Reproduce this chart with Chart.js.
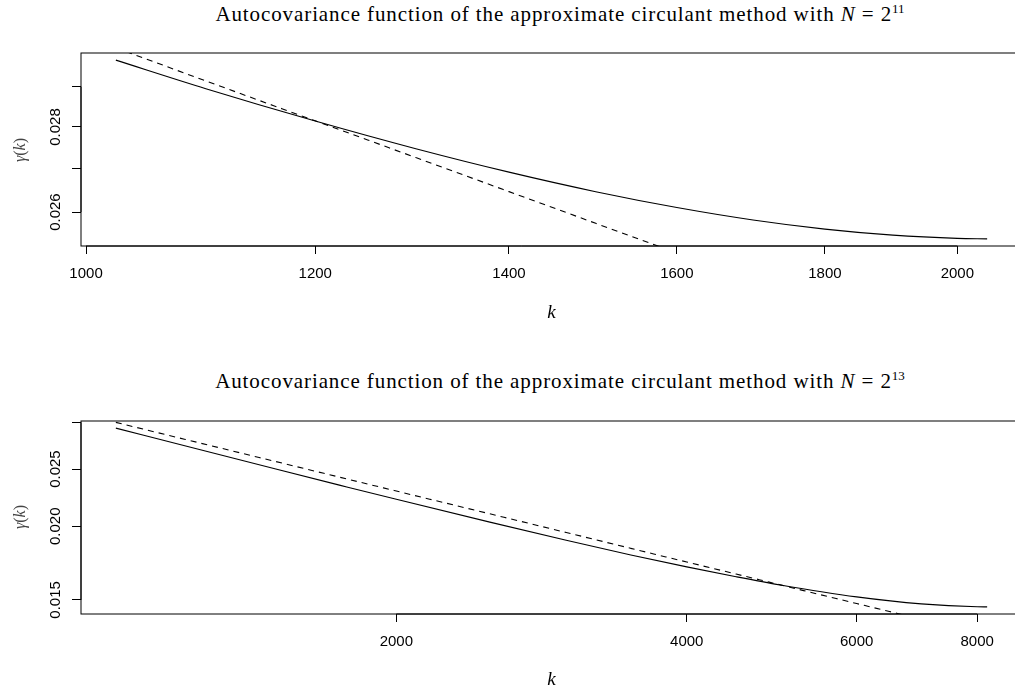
<!DOCTYPE html>
<html lang="en">
<head>
    <meta charset="UTF-8">
    <title>Autocovariance</title>
    <script src="https://cdn.jsdelivr.net/npm/chart.js"></script>
    <style>
        html, body {
            margin: 0;
            padding: 0;
            width: 1015px;
            height: 691px;
            overflow: hidden;
            background: #fff;
        }
        .panel {
            position: absolute;
            left: 0;
        }
        .title {
            position: absolute;
            left: 0;
            width: 1120px;
            text-align: center;
            font-family: "Liberation Serif", serif;
            font-size: 21px;
            letter-spacing: 0.9px;
            line-height: 20px;
            white-space: nowrap;
            color: #000;
        }
        .title sup {
            font-size: 13px;
            line-height: 0;
            letter-spacing: 0;
        }
        .xlab {
            position: absolute;
            left: 0;
            width: 1103px;
            text-align: center;
            font-family: "Liberation Serif", serif;
            font-style: italic;
            font-size: 19px;
            line-height: 20px;
            color: #000;
        }
        .ylab {
            position: absolute;
            width: 60px;
            text-align: center;
            font-family: "Liberation Serif", serif;
            font-size: 16px;
            line-height: 16px;
            color: #444;
            transform: rotate(-90deg);
        }
    </style>
</head>
<body>
    <div class="title" style="top:4px;">Autocovariance function of the approximate circulant method with <i>N</i> = 2<sup>11</sup></div>
    <canvas id="chartTop" class="panel" style="top:0px;" width="1030" height="330"></canvas>
    <div class="xlab" style="top:302px;">k</div>
    <div class="ylab" style="left:-10px; top:142px;"><i>γ</i>(<i>k</i>)</div>

    <div class="title" style="top:371px;">Autocovariance function of the approximate circulant method with <i>N</i> = 2<sup>13</sup></div>
    <canvas id="chartBottom" class="panel" style="top:368px;" width="1030" height="330"></canvas>
    <div class="xlab" style="top:669px;">k</div>
    <div class="ylab" style="left:-10px; top:509px;"><i>γ</i>(<i>k</i>)</div>

    <script>
        // N = 2^11
        const kTop = [1024, 1100, 1200, 1300, 1400, 1500, 1600, 1700, 1800, 1900, 2000, 2048];
        const approxTop = [0.029679, 0.028950, 0.028146, 0.027475, 0.026920, 0.026466, 0.026104, 0.025822, 0.025617, 0.025482, 0.025411, 0.025400];
        const exactTop = [0.030000, 0.029146, 0.028151, 0.027264, 0.026467, 0.025746, 0.025090, 0.024489, 0.023935, 0.023423, 0.022948, 0.022731];
        const xTicksTop = [1000, 1200, 1400, 1600, 1800, 2000];
        const xLabelsTop = ['1000', '1200', '1400', '1600', '1800', '2000'];
        const yTicksTop = [0.026, 0.027, 0.028, 0.029];
        const yLabelsTop = ['0.026', '', '0.028', ''];

        // N = 2^13
        const kBottom = [1024, 1250, 1500, 1750, 2000, 2500, 3000, 3500, 4000, 4500, 5000, 6000, 7000, 8000, 8192];
        const approxBottom = [0.029335, 0.026981, 0.025006, 0.023464, 0.022217, 0.020324, 0.018939, 0.017883, 0.017065, 0.016420, 0.015903, 0.015179, 0.014770, 0.014606, 0.014601];
        const exactBottom = [0.030000, 0.027696, 0.025746, 0.024207, 0.022948, 0.020995, 0.019519, 0.018348, 0.017395, 0.016596, 0.015909, 0.014791, 0.013910, 0.013183, 0.013058];
        const xTicksBottom = [2000, 4000, 6000, 8000];
        const xLabelsBottom = ['2000', '4000', '6000', '8000'];
        const yTicksBottom = [0.015, 0.020, 0.025, 0.030];
        const yLabelsBottom = ['0.015', '0.020', '0.025', ''];

        const tickFont = { family: '"Liberation Sans", Arial, sans-serif', size: 15 };

        // R style: 4% extra on each side, in log space
        function logRange(values) {
            const lo = Math.log10(Math.min(...values));
            const hi = Math.log10(Math.max(...values));
            const pad = (hi - lo) * 0.04;
            return { min: Math.pow(10, lo - pad), max: Math.pow(10, hi + pad) };
        }

        // box around the plot region, axis lines, rotated y labels
        const framePlugin = {
            id: 'frame',
            afterDraw(chart, args, opts) {
                const { ctx, chartArea: a, scales } = chart;
                ctx.save();
                ctx.strokeStyle = '#000';
                ctx.lineWidth = 1;
                ctx.strokeRect(a.left, a.top, a.right - a.left, a.bottom - a.top);

                const xs = scales.x.ticks, ys = scales.y.ticks;
                ctx.beginPath();
                ctx.moveTo(scales.x.getPixelForValue(xs[0].value), a.bottom);
                ctx.lineTo(scales.x.getPixelForValue(xs[xs.length - 1].value), a.bottom);
                ctx.moveTo(a.left, scales.y.getPixelForValue(ys[0].value));
                ctx.lineTo(a.left, scales.y.getPixelForValue(ys[ys.length - 1].value));
                ctx.stroke();

                ctx.fillStyle = '#000';
                ctx.font = '15px "Liberation Sans", Arial, sans-serif';
                ctx.textAlign = 'center';
                ctx.textBaseline = 'middle';
                ys.forEach((t, i) => {
                    const lab = opts.yLabels[i];
                    if (!lab) return;
                    const py = scales.y.getPixelForValue(t.value);
                    ctx.save();
                    ctx.translate(56, py);
                    ctx.rotate(-Math.PI / 2);
                    ctx.fillText(lab, 0, 0);
                    ctx.restore();
                });
                ctx.restore();
            }
        };

        function makeChart(id, k, approx, exact, xTicks, xLabels, yTicks, yLabels) {
            const xr = logRange(k);
            const yr = logRange(approx);
            const ctx = document.getElementById(id).getContext('2d');
            return new Chart(ctx, {
                type: 'line',
                data: {
                    datasets: [{
                        label: 'approximate circulant',
                        data: k.map((v, i) => ({ x: v, y: approx[i] })),
                        borderColor: '#000',
                        borderWidth: 1.1,
                        pointRadius: 0,
                        cubicInterpolationMode: 'monotone',
                        clip: 0
                    }, {
                        label: 'exact',
                        data: k.map((v, i) => ({ x: v, y: exact[i] })),
                        borderColor: '#000',
                        borderWidth: 1.1,
                        borderDash: [6, 5],
                        pointRadius: 0,
                        cubicInterpolationMode: 'monotone',
                        clip: 0
                    }]
                },
                options: {
                    responsive: false,
                    animation: false,
                    devicePixelRatio: 1,
                    layout: { padding: { top: 53, right: 8, left: 0, bottom: 0 } },
                    plugins: {
                        legend: { display: false },
                        tooltip: { enabled: false },
                        frame: { yLabels: yLabels }
                    },
                    scales: {
                        x: {
                            type: 'logarithmic',
                            min: xr.min,
                            max: xr.max,
                            bounds: 'data',
                            afterBuildTicks: s => { s.ticks = xTicks.map(v => ({ value: v })); },
                            afterFit: s => { s.height = 84; },
                            grid: { drawOnChartArea: false, tickLength: 8, color: '#000', lineWidth: 1 },
                            border: { display: false },
                            ticks: {
                                color: '#000',
                                font: tickFont,
                                padding: 11,
                                autoSkip: false,
                                maxRotation: 0,
                                callback: (v, i) => xLabels[i]
                            }
                        },
                        y: {
                            type: 'logarithmic',
                            min: yr.min,
                            max: yr.max,
                            bounds: 'data',
                            afterBuildTicks: s => { s.ticks = yTicks.map(v => ({ value: v })); },
                            afterFit: s => { s.width = 81; },
                            grid: { drawOnChartArea: false, tickLength: 9, color: '#000', lineWidth: 1 },
                            border: { display: false },
                            ticks: { display: false }
                        }
                    }
                },
                plugins: [framePlugin]
            });
        }

        makeChart('chartTop', kTop, approxTop, exactTop, xTicksTop, xLabelsTop, yTicksTop, yLabelsTop);
        makeChart('chartBottom', kBottom, approxBottom, exactBottom, xTicksBottom, xLabelsBottom, yTicksBottom, yLabelsBottom);
    </script>
</body>
</html>
